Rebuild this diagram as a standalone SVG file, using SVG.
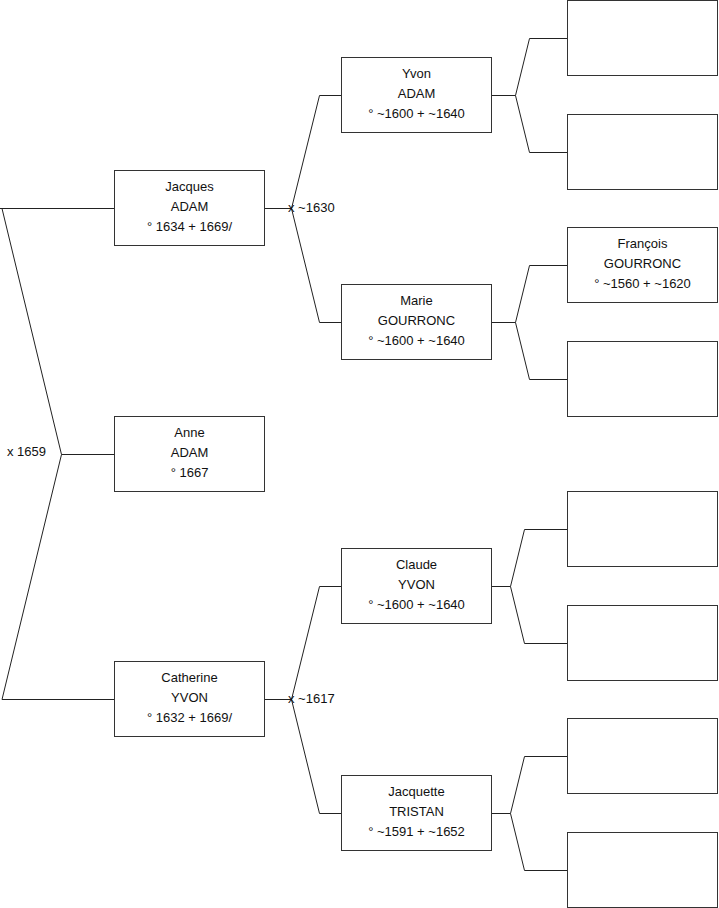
<svg xmlns="http://www.w3.org/2000/svg" width="719" height="908" viewBox="0 0 719 908">
<style>
.box{fill:#fff;stroke:#333;stroke-width:1}
.ln{fill:none;stroke:#222;stroke-width:1}
text{font-family:"Liberation Sans",Arial,sans-serif;font-size:13px;fill:#111}
.c{text-anchor:middle}
</style>
<rect width="719" height="908" fill="#fff"/>
<g id="connectors">
<polyline class="ln" points="0,208.5 114,208.5"/>
<polyline class="ln" points="2,208.5 61.5,454.5 2,699.5"/>
<polyline class="ln" points="61.5,454.5 114,454.5"/>
<polyline class="ln" points="2,699.5 114,699.5"/>
<polyline class="ln" points="265,208.5 291.5,208.5"/>
<polyline class="ln" points="341,95.5 319.5,95.5 291.5,208.5 319.5,322.5 341,322.5"/>
<polyline class="ln" points="265,699.5 291.5,699.5"/>
<polyline class="ln" points="341,586.5 319.5,586.5 291.5,699.5 319.5,813.5 341,813.5"/>
<polyline class="ln" points="492,95.5 515.5,95.5"/>
<polyline class="ln" points="567,38.5 529.5,38.5 515.5,95.5 529.5,152.5 567,152.5"/>
<polyline class="ln" points="492,322.5 515.5,322.5"/>
<polyline class="ln" points="567,265.5 529.5,265.5 515.5,322.5 529.5,379.5 567,379.5"/>
<polyline class="ln" points="492,586.5 510.5,586.5"/>
<polyline class="ln" points="567,529.5 524.5,529.5 510.5,586.5 524.5,643.5 567,643.5"/>
<polyline class="ln" points="492,813.5 510.5,813.5"/>
<polyline class="ln" points="567,756.5 524.5,756.5 510.5,813.5 524.5,870.5 567,870.5"/>
<text x="288" y="212">x ~1630</text>
<text x="288" y="703">x ~1617</text>
<text x="7" y="456">x 1659</text>
</g>
<g id="jacques"><rect class="box" x="114.5" y="170.5" width="150" height="75"/>
<text class="c" x="189.5" y="191">Jacques</text><text class="c" x="189.5" y="211">ADAM</text><text class="c" x="189.5" y="231">° 1634 + 1669/</text></g>
<g id="anne"><rect class="box" x="114.5" y="416.5" width="150" height="75"/>
<text class="c" x="189.5" y="437">Anne</text><text class="c" x="189.5" y="457">ADAM</text><text class="c" x="189.5" y="477">° 1667</text></g>
<g id="catherine"><rect class="box" x="114.5" y="661.5" width="150" height="75"/>
<text class="c" x="189.5" y="682">Catherine</text><text class="c" x="189.5" y="702">YVON</text><text class="c" x="189.5" y="722">° 1632 + 1669/</text></g>
<g id="yvon"><rect class="box" x="341.5" y="57.5" width="150" height="75"/>
<text class="c" x="416.5" y="78">Yvon</text><text class="c" x="416.5" y="98">ADAM</text><text class="c" x="416.5" y="118">° ~1600 + ~1640</text></g>
<g id="marie"><rect class="box" x="341.5" y="284.5" width="150" height="75"/>
<text class="c" x="416.5" y="305">Marie</text><text class="c" x="416.5" y="325">GOURRONC</text><text class="c" x="416.5" y="345">° ~1600 + ~1640</text></g>
<g id="claude"><rect class="box" x="341.5" y="548.5" width="150" height="75"/>
<text class="c" x="416.5" y="569">Claude</text><text class="c" x="416.5" y="589">YVON</text><text class="c" x="416.5" y="609">° ~1600 + ~1640</text></g>
<g id="jacquette"><rect class="box" x="341.5" y="775.5" width="150" height="75"/>
<text class="c" x="416.5" y="796">Jacquette</text><text class="c" x="416.5" y="816">TRISTAN</text><text class="c" x="416.5" y="836">° ~1591 + ~1652</text></g>
<g id="p1"><rect class="box" x="567.5" y="0.5" width="150" height="75"/></g>
<g id="p2"><rect class="box" x="567.5" y="114.5" width="150" height="75"/></g>
<g id="francois"><rect class="box" x="567.5" y="227.5" width="150" height="75"/>
<text class="c" x="642.5" y="248">François</text><text class="c" x="642.5" y="268">GOURRONC</text><text class="c" x="642.5" y="288">° ~1560 + ~1620</text></g>
<g id="p4"><rect class="box" x="567.5" y="341.5" width="150" height="75"/></g>
<g id="p5"><rect class="box" x="567.5" y="491.5" width="150" height="75"/></g>
<g id="p6"><rect class="box" x="567.5" y="605.5" width="150" height="75"/></g>
<g id="p7"><rect class="box" x="567.5" y="718.5" width="150" height="75"/></g>
<g id="p8"><rect class="box" x="567.5" y="832.5" width="150" height="75"/></g>
</svg>
